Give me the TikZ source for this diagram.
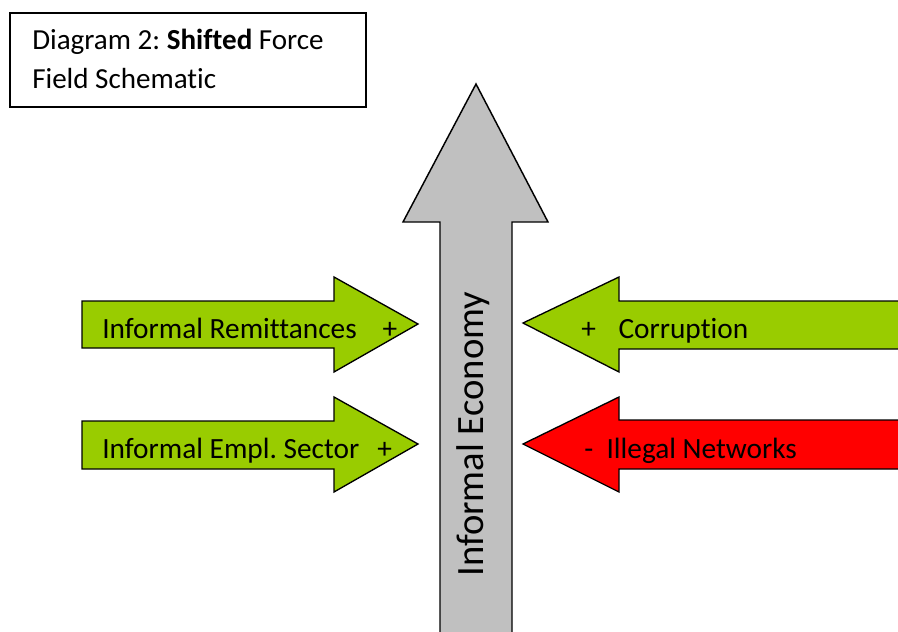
\documentclass[tikz,border=0pt]{standalone}
\usepackage{fontspec}
\setmainfont[Ligatures=NoCommon]{Carlito}
\usepackage{tikz}
\frenchspacing

\definecolor{limegreen}{HTML}{99CC00}
\definecolor{arrowred}{HTML}{FF0000}
\definecolor{shaftgray}{HTML}{C0C0C0}

\begin{document}
\begin{tikzpicture}[x=0.75pt,y=-0.75pt,line join=miter]

\useasboundingbox (0,0) rectangle (898,631);
\clip (0,0) rectangle (898,631);

% title box
\draw[black,line width=1pt] (10,13) rectangle (366,107);
\node[anchor=base west,inner sep=0pt,font=\fontsize{21.8}{24}\selectfont] (title1) at (32,50) {Diagram 2: \textbf{Shifted} Force};
\node[anchor=base west,inner sep=0pt,font=\fontsize{21.8}{24}\selectfont] (title2) at (32,89) {Field Schematic};

% vertical arrow
\draw[black,line width=1.1pt,fill=shaftgray] (440,640) -- (440,222) -- (403,222) -- (476,84) -- (548,222) -- (512,222) -- (512,640);
\node[anchor=base west,inner sep=0pt,rotate=90,font=\fontsize{29}{32}\selectfont] (econ) at (483,577) {Informal Economy};

% arrows from the left
\draw[black,line width=1pt,fill=limegreen] (82,301) -- (334,301) -- (334,277) -- (418,324) -- (334,372) -- (334,348) -- (82,348) -- cycle;
\draw[black,line width=1pt,fill=limegreen] (82,421) -- (334,421) -- (334,397) -- (418,444) -- (334,492) -- (334,469) -- (82,469) -- cycle;
\node[anchor=base west,inner sep=0pt,font=\fontsize{22}{24}\selectfont] (remit) at (102,338) {Informal Remittances\hspace{19.5pt}+};
\node[anchor=base west,inner sep=0pt,font=\fontsize{22}{24}\selectfont] (empl) at (102,458) {Informal Empl. Sector\hspace{13.5pt}+};

% arrows from the right
\draw[black,line width=1pt,fill=limegreen] (910,301) -- (619,301) -- (619,277) -- (523,323) -- (619,372) -- (619,349) -- (910,349);
\draw[black,line width=1pt,fill=arrowred] (910,420) -- (619,420) -- (619,397) -- (523,444) -- (619,492) -- (619,469) -- (910,469);
\node[anchor=base west,inner sep=0pt,font=\fontsize{22}{24}\selectfont] (corrupt) at (581,338) {+\hspace{17pt}Corruption};
\node[anchor=base west,inner sep=0pt,font=\fontsize{22}{24}\selectfont] (illegal) at (584,458) {-\hspace{10pt}Illegal Networks};

\end{tikzpicture}
\end{document}
